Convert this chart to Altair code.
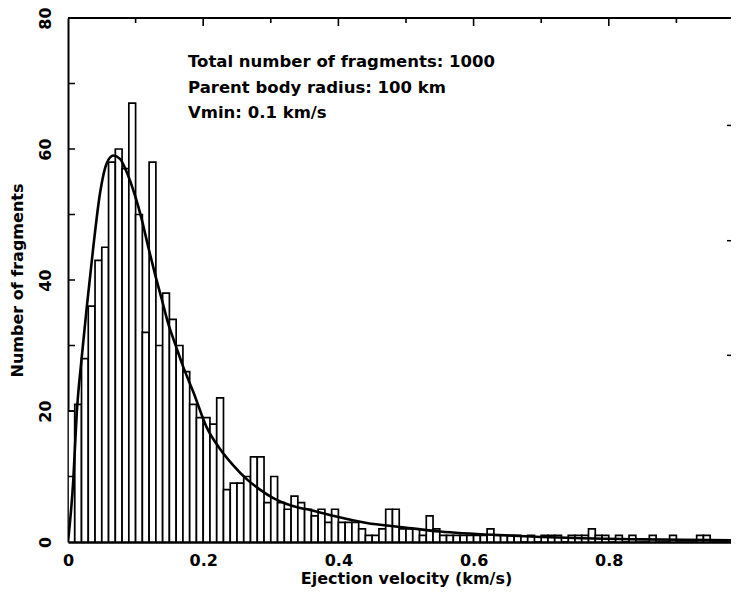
import altair as alt
import pandas as pd

# ---- data ----
bin_width = 0.01
counts = [20, 21, 28, 36, 43, 45, 58, 60, 57, 67,
          50, 32, 58, 30, 38, 34, 30, 26, 21, 19,
          19, 18, 22, 8, 9, 9, 10, 13, 13, 6,
          10, 6, 5, 7, 6, 5, 4, 5, 3, 5,
          3, 3, 3, 2, 1, 1, 2, 5, 5, 2,
          2, 2, 1, 4, 2, 1, 1, 1, 1, 1,
          1, 1, 2, 1, 1, 1, 1, 0, 1, 0,
          1, 1, 1, 0, 1, 1, 1, 2, 1, 1,
          0, 1, 0, 1, 0, 0, 1, 0, 0, 1,
          0, 0, 0, 1, 1, 0, 0, 0, 0, 0]

curve_v = [0, 0.0078, 0.0129, 0.0203, 0.0277, 0.0374, 0.0473, 0.0572, 0.067,
           0.0769, 0.0868, 0.0991, 0.109, 0.1188, 0.1287, 0.1386, 0.1484,
           0.1583, 0.1706, 0.1854, 0.2052, 0.2249, 0.2445, 0.2643, 0.284,
           0.3037, 0.3235, 0.3432, 0.358, 0.392, 0.4419, 0.4911, 0.5503,
           0.65, 0.75, 0.85, 0.95, 1.0]
curve_n = [0, 9.4, 19.6, 28.2, 35.8, 45, 53.2, 57.8, 59.0,
           58.5, 56.5, 52.9, 49.3, 45, 40.9, 37.1, 33.3,
           30.3, 26.7, 22.9, 17.5, 14.2, 11.7, 9.6, 8.0,
           6.7, 5.8, 5.2, 4.9, 4.0, 2.9, 2.3, 1.6,
           1.0, 0.6, 0.4, 0.3, 0.25]

x_labels = [0, 0.2, 0.4, 0.6, 0.8]
y_labels = [0, 20, 40, 60, 80]
y_ticks = [10, 20, 30, 40, 50, 60, 70]
top_major = [0.2, 0.4, 0.6, 0.8]
top_minor = [0.1, 0.3, 0.5, 0.7, 0.9]
right_ticks = [63.6, 46.0, 28.5]

notes = ["Total number of fragments: 1000",
         "Parent body radius: 100 km",
         "Vmin: 0.1 km/s"]

FONT = "DejaVu Sans"
W, H = 663, 524

bars_df = pd.DataFrame({
    "lo": [i * bin_width for i in range(len(counts))],
    "hi": [(i + 1) * bin_width for i in range(len(counts))],
    "n": counts,
})
curve_df = pd.DataFrame({"v": curve_v, "f": curve_n})

xs = alt.Scale(domain=[0, 0.9808], nice=False, zero=False)
ys = alt.Scale(domain=[0, 80], nice=False)

x_axis = alt.Axis(values=x_labels, format="~g", ticks=False, tickSize=0, grid=False,
                  domainColor="black", domainWidth=2.5,
                  labelFont=FONT, labelFontWeight="bold", labelFontSize=16,
                  labelColor="black", labelPadding=10, labelFlush=False,
                  title="Ejection velocity (km/s)", titleFont=FONT,
                  titleFontSize=16, titleFontWeight="bold", titleColor="black",
                  titleX=338, titleY=41, titleBaseline="alphabetic")
y_axis = alt.Axis(values=y_labels, ticks=False, tickSize=0, grid=False,
                  domainColor="black", domainWidth=2,
                  labelFont=FONT, labelFontWeight="bold", labelFontSize=16,
                  labelColor="black", labelAngle=270, labelAlign="center",
                  labelBaseline="bottom", labelPadding=15, labelFlush=False,
                  title="Number of fragments", titleFont=FONT, titleFontSize=16,
                  titleFontWeight="bold", titleColor="black", titleAngle=270,
                  titleX=-51, titleY=262, titleAlign="center", titleBaseline="middle")

bars = alt.Chart(bars_df).mark_bar(fill="white", stroke="black", strokeWidth=1.7,
                                   clip=True).encode(
    x=alt.X("lo:Q", scale=xs, axis=x_axis),
    x2="hi:Q",
    y=alt.Y("n:Q", scale=ys, axis=y_axis),
    y2=alt.datum(0),
)

curve = alt.Chart(curve_df).mark_line(color="black", strokeWidth=2.6,
                                      interpolate="monotone", clip=True).encode(
    x=alt.X("v:Q", scale=xs),
    y=alt.Y("f:Q", scale=ys),
)

left_ticks = alt.Chart(pd.DataFrame({"t": y_ticks})).mark_rule(
    color="black", strokeWidth=1.5).encode(
    y=alt.Y("t:Q", scale=ys), x=alt.value(0), x2=alt.value(7))

top_line = alt.Chart(pd.DataFrame({"a": [0]})).mark_rule(
    color="black", strokeWidth=2).encode(
    x=alt.value(0), x2=alt.value(W), y=alt.value(0))

top_big = alt.Chart(pd.DataFrame({"t": top_major})).mark_rule(
    color="black", strokeWidth=1.6).encode(
    x=alt.X("t:Q", scale=xs), y=alt.value(0), y2=alt.value(8))

top_small = alt.Chart(pd.DataFrame({"t": top_minor})).mark_rule(
    color="black", strokeWidth=1.6).encode(
    x=alt.X("t:Q", scale=xs), y=alt.value(0), y2=alt.value(5))

right_t = alt.Chart(pd.DataFrame({"t": right_ticks})).mark_rule(
    color="black", strokeWidth=1.5).encode(
    y=alt.Y("t:Q", scale=ys), x=alt.value(W - 4), x2=alt.value(W))

texts = []
for k, s in enumerate(notes):
    texts.append(
        alt.Chart(pd.DataFrame({"s": [s]})).mark_text(
            align="left", baseline="middle", font=FONT, fontSize=16.5,
            fontWeight="bold", color="black").encode(
            text="s:N", x=alt.value(120), y=alt.value(44 + 25.5 * k))
    )

chart = alt.layer(bars, curve, left_ticks, top_line, top_big, top_small, right_t,
                  *texts).properties(
    width=W, height=H,
    autosize=alt.AutoSizeParams(type="none"),
    padding={"left": 60, "top": 10, "right": 0, "bottom": 48},
).configure_view(stroke=None).configure(background="white")

chart.save("out.html", embed_options={"renderer": "svg", "actions": False})
